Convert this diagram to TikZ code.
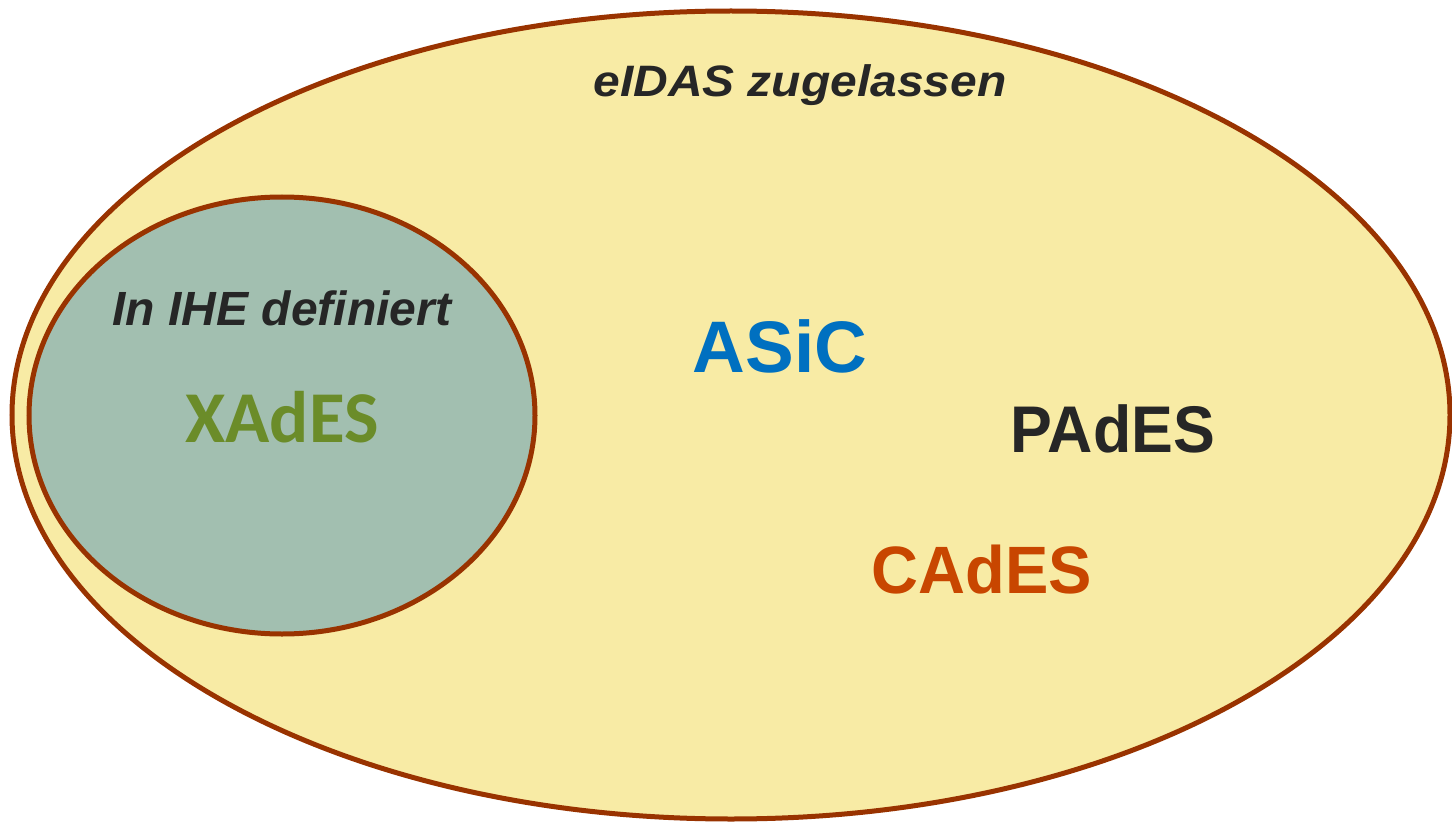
\documentclass[tikz,border=0pt]{standalone}
\usepackage{fontspec}
\setmainfont{Liberation Sans}
\newfontfamily\calib{Carlito}
\definecolor{ringc}{HTML}{993300}
\definecolor{yelfill}{HTML}{F8EBA5}
\definecolor{grnfill}{HTML}{A2BFB0}
\definecolor{xgreen}{HTML}{6B8C29}
\definecolor{ablue}{HTML}{0070C0}
\definecolor{corange}{HTML}{C84600}
\definecolor{dtext}{HTML}{262626}
\begin{document}
\begin{tikzpicture}[x=1pt,y=-1pt,
  ring/.style={draw=ringc,line width=5pt},
  lbl/.style={anchor=base,inner sep=0pt,outer sep=0pt}]
\useasboundingbox (0,0) rectangle (1452,824);
\draw[ring,fill=yelfill] (731,415) ellipse [x radius=719,y radius=404];
\draw[ring,fill=grnfill] (282,415.5) ellipse [x radius=253,y radius=218.5];
\node[lbl,text=dtext,font=\fontsize{44}{50}\selectfont\bfseries\itshape] (eidas) at (800,97) {\scalebox{1.09}[1]{eIDAS zugelassen}};
\node[lbl,text=dtext,font=\fontsize{48}{54}\selectfont\bfseries\itshape] (ihe) at (282,325) {In IHE definiert};
\node[lbl,text=xgreen,font=\fontsize{73}{80}\calib\bfseries] (xades) at (282,442) {XAdES};
\node[lbl,text=ablue,font=\fontsize{73}{80}\selectfont\bfseries] (asic) at (780,372) {ASiC};
\node[lbl,text=dtext,font=\fontsize{66}{72}\selectfont\bfseries] (pades) at (1113,452) {\scalebox{0.95}[1]{PAdES}};
\node[lbl,text=corange,font=\fontsize{67}{72}\selectfont\bfseries] (cades) at (982,593) {\scalebox{0.97}[1]{CAdES}};
\end{tikzpicture}
\end{document}
